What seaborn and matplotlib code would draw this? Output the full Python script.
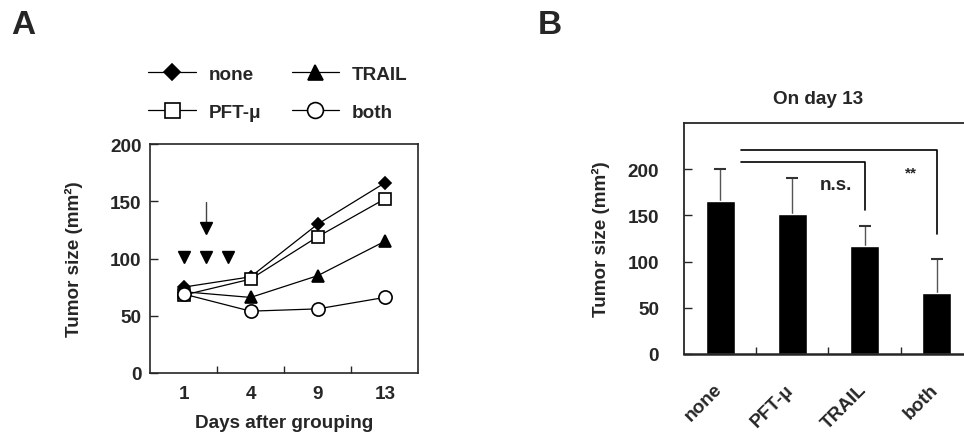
import numpy as np
import pandas as pd
import matplotlib.pyplot as plt
import matplotlib.transforms as mtransforms
import seaborn as sns

# panel A: tumor growth curves
days = ["1", "4", "9", "13"]
day_values = [1, 4, 9, 13]
none_size = [75, 84, 130, 166]
pft_size = [68, 82, 119, 152]
trail_size = [71, 66, 85, 115]
both_size = [69, 54, 56, 66]

# treatment marks (TRAIL on days 1-3, PFT-mu on day 2)
trail_days = [1, 2, 3]
trail_mark_y = 101
pft_day = 2
pft_arrow_y = [149, 127]

# panel B: day 13
groups = ["none", "PFT-\u03bc", "TRAIL", "both"]
day13_mean = [166, 151, 117, 66]
day13_err = [34, 39, 21, 37]

# significance brackets: (start x, end x, bar height, drop to), label, label pos
brackets = [(0.29, 2.0, 208, 156), (0.29, 3.0, 221, 130)]
sig_labels = ["n.s.", "**"]
sig_pos = [(1.6, 183), (2.65, 197)]

sns.set_style("ticks")
plt.rcParams["font.family"] = ["Liberation Sans", "DejaVu Sans"]
plt.rcParams["font.weight"] = "bold"
plt.rcParams["axes.labelweight"] = "bold"
plt.rcParams["font.size"] = 13.6

fig = plt.figure(figsize=(9.64, 4.39), dpi=100)
axa = fig.add_axes([150 / 964, 65 / 439, 268.3 / 964, 229 / 439])
axb = fig.add_axes([684 / 964, 84 / 439, 288.8 / 964, 231 / 439])

# ---- panel A
series = [
    ("none", none_size, dict(marker="D", markersize=6.5, markerfacecolor="black")),
    ("PFT-\u03bc", pft_size, dict(marker="s", markersize=9, markerfacecolor="white")),
    ("TRAIL", trail_size, dict(marker="^", markersize=9, markerfacecolor="black")),
    ("both", both_size, dict(marker="o", markersize=9.5, markerfacecolor="white")),
]
pos = np.arange(len(days))
for name, vals, mk in series:
    sns.lineplot(x=pos, y=vals, ax=axa, color="black", linewidth=0.9,
                 markeredgecolor="black", markeredgewidth=1.2, label=name, **mk)

to_pos = lambda d: np.interp(d, day_values, pos)
axa.plot(to_pos(np.array(trail_days)), [trail_mark_y] * len(trail_days), "v",
         color="black", markersize=9, linestyle="none")
axa.plot([to_pos(pft_day)] * 2, pft_arrow_y, color="#444444", lw=1)
axa.plot(to_pos(pft_day), pft_arrow_y[1], "v", color="black", markersize=9)

axa.set_xlim(-0.5, 3.5)
axa.set_ylim(0, 200)
axa.set_xticks(pos)
axa.set_xticklabels(days)
axa.set_xticks(pos[:-1] + 0.5, minor=True)
axa.tick_params(axis="x", which="major", length=0, pad=9)
axa.tick_params(axis="x", which="minor", direction="in", length=5, width=1)
axa.set_yticks([0, 50, 100, 150, 200])
axa.tick_params(axis="y", direction="in", length=6, width=1, pad=6)
for s in axa.spines.values():
    s.set_linewidth(1.2)
axa.set_xlabel("Days after grouping")
axa.xaxis.set_label_coords(0.5, -0.18)
axa.set_ylabel("Tumor size (mm\u00b2)")
axa.yaxis.set_label_coords(-0.25, 0.5)

axa.legend(ncol=2, frameon=False, loc="upper left",
           bbox_to_anchor=(139 / 964, 1 - 57 / 439), bbox_transform=fig.transFigure,
           handlelength=2.5, handletextpad=0.7, columnspacing=1.6,
           labelspacing=1.1, borderpad=0, markerscale=1.2)

# ---- panel B
sns.barplot(x=groups, y=day13_mean, color="black", saturation=1, width=0.4, ax=axb)
bar_x = np.arange(len(groups))
tops = np.array(day13_mean) + np.array(day13_err)
axb.errorbar(bar_x, day13_mean, yerr=[np.zeros(len(groups)), day13_err], fmt="none",
             ecolor="#555555", elinewidth=1, capsize=0, zorder=0.5)
axb.plot(bar_x, tops, "_", color="#333333", markersize=8, markeredgewidth=1.5)
for (x0, x1, h, d) in brackets:
    axb.plot([x0, x1, x1], [h, h, d], color="black", lw=1.2)
for lab, (tx, ty) in zip(sig_labels, sig_pos):
    axb.text(tx, ty, lab, ha="center", va="center", fontsize=13.6 if lab != "**" else 11)

axb.set_xlim(-0.5, 3.5)
axb.set_ylim(0, 250)
axb.set_yticks([0, 50, 100, 150, 200])
axb.tick_params(axis="y", direction="in", length=6, width=1, pad=18)
axb.set_xticks(bar_x + 0.5, minor=True)
axb.tick_params(axis="x", which="major", length=0, pad=19)
axb.tick_params(axis="x", which="minor", direction="in", length=5, width=1)
shift = mtransforms.ScaledTranslation(5 / 100, 0, fig.dpi_scale_trans)
for lbl in axb.get_xticklabels():
    lbl.set_rotation(45)
    lbl.set_ha("right")
    lbl.set_va("top")
    lbl.set_transform(lbl.get_transform() + shift)
for s in axb.spines.values():
    s.set_linewidth(1.3)
axb.spines["bottom"].set_linewidth(1.8)
axb.set_ylabel("Tumor size (mm\u00b2)")
axb.yaxis.set_label_coords(-0.256, 0.5)

fig.text(818 / 964, 1 - 100 / 439, "On day 13", ha="center", va="center")
fig.text(23 / 964, 1 - 25 / 439, "A", ha="center", va="center", fontsize=24)
fig.text(550 / 964, 1 - 25 / 439, "B", ha="center", va="center", fontsize=24)

fig.savefig("out.png", dpi=100)
